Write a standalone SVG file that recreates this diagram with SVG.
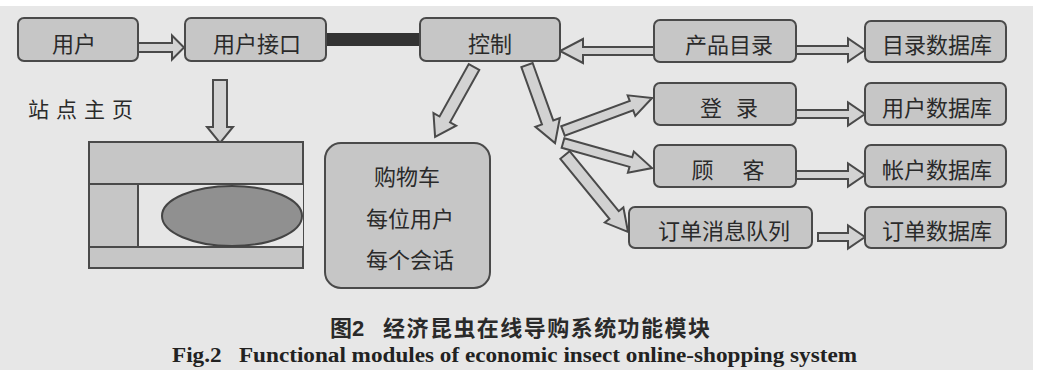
<svg xmlns="http://www.w3.org/2000/svg" width="1040" height="370" viewBox="0 0 1040 370">
<style>
.bg{fill:#e7e7e7}
.box{fill:#c6c6c6;stroke:#4a4a4a;stroke-width:2}
.arr{fill:#d2d2d2;stroke:#4a4a4a;stroke-width:2;stroke-linejoin:miter}
.t{font-family:"Noto Sans CJK SC","Noto Sans",sans-serif;font-size:22px;fill:#2a2a2a;text-anchor:middle;dominant-baseline:central}
.cap{font-family:"Noto Sans CJK SC","Noto Sans",sans-serif;font-size:22px;font-weight:bold;fill:#2a2a2a}
.en{font-family:"Liberation Serif",serif;font-size:20px;font-weight:bold;fill:#222}
</style>
<rect x="0" y="0" width="1040" height="370" fill="#ffffff"/>
<rect class="bg" x="0" y="6" width="1033" height="364"/>
<g id="connectors">
<rect x="326" y="33" width="94" height="13" fill="#333"/>
<path class="arr" transform="translate(138,47.5)" d="M0,-4.5 H34 V-12 L46,0 L34,12 V4.5 H0 Z"/>
<path class="arr" transform="translate(220,80) rotate(90)" d="M0,-7 H47 V-13 L63,0 L47,13 V7 H0 Z"/>
<path class="arr" transform="translate(474,67) rotate(119.1)" d="M0,-6 H60 V-13 L80,0 L60,13 V6 H0 Z"/>
<path class="arr" transform="translate(654,51) rotate(180)" d="M0,-4 H71 V-12 L94,0 L71,12 V4 H0 Z"/>
<path class="arr" transform="translate(527,65) rotate(70.25)" d="M0,-6 H61 V-13 L83,0 L61,13 V6 H0 Z"/>
<path class="arr" transform="translate(563,131) rotate(-20.3)" d="M0,-5 H73 V-11 L95,0 L73,11 V5 H0 Z"/>
<path class="arr" transform="translate(563,143) rotate(15.7)" d="M0,-5 H70.5 V-11 L92.5,0 L70.5,11 V5 H0 Z"/>
<path class="arr" transform="translate(565,155) rotate(50.7)" d="M0,-6 H77.5 V-12 L99.5,0 L77.5,12 V6 H0 Z"/>
<path class="arr" transform="translate(796,50)" d="M0,-4 H52 V-11.5 L69,0 L52,11.5 V4 H0 Z"/>
<path class="arr" transform="translate(796,114)" d="M0,-4 H52 V-11.5 L69,0 L52,11.5 V4 H0 Z"/>
<path class="arr" transform="translate(796,175)" d="M0,-4 H52 V-11.5 L69,0 L52,11.5 V4 H0 Z"/>
<path class="arr" transform="translate(818,237)" d="M0,-4 H30 V-11.5 L47,0 L30,11.5 V4 H0 Z"/>
</g>
<g id="user"><rect class="box" x="18" y="18" width="120" height="43" rx="6"/><text class="t" x="74" y="42">用户</text></g>
<g id="ui"><rect class="box" x="185" y="18" width="141" height="43" rx="6"/><text class="t" x="257" y="42">用户接口</text></g>
<g id="control"><rect class="box" x="420" y="18" width="140" height="43" rx="6"/><text class="t" x="490" y="42">控制</text></g>
<g id="catalog"><rect class="box" x="654" y="20" width="142" height="42" rx="6"/><text class="t" x="729" y="43">产品目录</text></g>
<g id="login"><rect class="box" x="654" y="83" width="142" height="42" rx="6"/><text class="t" x="729" y="106" style="word-spacing:9px">登 录</text></g>
<g id="customer"><rect class="box" x="654" y="145" width="142" height="42" rx="6"/><text class="t" x="728" y="168" style="word-spacing:24px">顾 客</text></g>
<g id="orderqueue"><rect class="box" x="629" y="207" width="183" height="41" rx="6"/><text class="t" x="724" y="229">订单消息队列</text></g>
<g id="catalogdb"><rect class="box" x="865" y="21" width="141" height="41" rx="6"/><text class="t" x="937" y="43">目录数据库</text></g>
<g id="userdb"><rect class="box" x="865" y="83" width="141" height="42" rx="6"/><text class="t" x="937" y="106">用户数据库</text></g>
<g id="accountdb"><rect class="box" x="865" y="145" width="141" height="42" rx="6"/><text class="t" x="937" y="168">帐户数据库</text></g>
<g id="orderdb"><rect class="box" x="865" y="207" width="141" height="41" rx="6"/><text class="t" x="937" y="229">订单数据库</text></g>
<g id="homepage">
<text class="t" x="84" y="108" style="font-size:21px;letter-spacing:7px">站点主页</text>
<rect class="box" x="89" y="142" width="214" height="126"/>
<rect x="138" y="184" width="165" height="63" fill="#e6e6e6"/>
<path d="M89,184 H303 M89,247 H303 M138,184 V247" stroke="#4a4a4a" stroke-width="2" fill="none"/>
<ellipse cx="232" cy="216" rx="70" ry="30" fill="#909090" stroke="#444" stroke-width="2"/>
</g>
<g id="cart">
<rect class="box" x="325" y="143" width="165" height="145" rx="16"/>
<text class="t" x="407" y="175">购物车</text>
<text class="t" x="410" y="217">每位用户</text>
<text class="t" x="410" y="258">每个会话</text>
</g>
<g id="caption">
<text class="cap" x="330" y="336">图<tspan font-family="Liberation Sans">2</tspan></text>
<text class="cap" x="383" y="336" textLength="327">经济昆虫在线导购系统功能模块</text>
<text class="en" x="172" y="362" textLength="685" lengthAdjust="spacingAndGlyphs" xml:space="preserve">Fig.2   Functional modules of economic insect online-shopping system</text>
</g>
</svg>
